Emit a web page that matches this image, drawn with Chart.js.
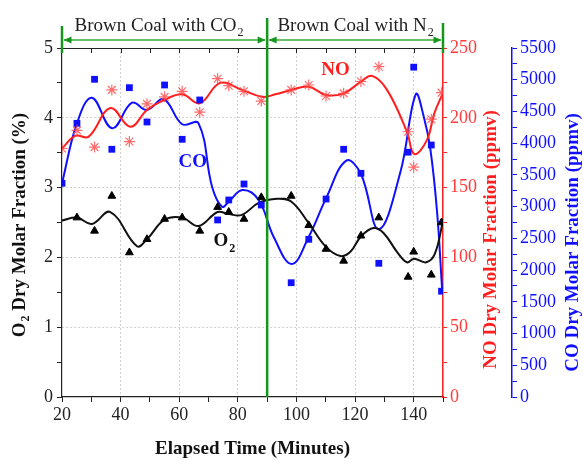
<!DOCTYPE html>
<html>
<head>
<meta charset="utf-8">
<script src="https://cdn.jsdelivr.net/npm/chart.js@4.4.1/dist/chart.umd.min.js"></script>
<style>
  html, body { margin: 0; padding: 0; background: #fff; }
  #wrap { width: 583px; height: 460px; }
</style>
</head>
<body>
<div id="wrap"><canvas id="chart" width="583" height="460"></canvas></div>
<script>
// measured samples (minutes)
const sampleTimes = [20, 25.1, 31.1, 37, 43, 49, 55, 61, 67, 73.1, 76.9, 82.1, 88, 98.2, 104.2, 110.1, 116.1, 122, 128.1, 138.1, 140, 146, 149.5];
const o2Measured = [null, 2.57, 2.38, 2.88, 2.07, 2.26, 2.55, 2.57, 2.38, 2.72, 2.65, 2.55, 2.86, 2.88, 2.46, 2.12, 1.95, 2.31, 2.57, 1.72, 2.08, 1.75, 2.50];
const noMeasured = [178, 191, 179, 220, 183, 210, 215, 219, 204, 228, 223, 219, 212, 220, 223.5, 215.6, 217.5, 226, 236.6, 190, 164.6, 199, 218];
const coMeasured = [3368, 4313, 5007, 3904, 4875, 4334, 4917, 4061, 4681, 2790, 3105, 3357, 3026, 1801, 2485, 3120, 3904, 3525, 2107, 3858, 5198, 3971, 1667];

// smoothed trend curves
const o2FitTimes = [20, 25.1, 30.2, 36.5, 45.6, 49, 55, 61, 66.6, 73.1, 76.9, 81.4, 87.1, 93.4, 98.2, 104.2, 110.1, 115, 118.4, 122, 126.3, 129.7, 134.3, 137.7, 140.1, 144.3, 147.2, 150];
const o2Fit = [2.53, 2.57, 2.48, 2.65, 2.16, 2.26, 2.54, 2.57, 2.45, 2.65, 2.62, 2.61, 2.78, 2.84, 2.80, 2.49, 2.15, 2.02, 2.08, 2.30, 2.42, 2.35, 2.08, 1.93, 1.98, 1.93, 2.05, 2.52];
const noFitTimes = [20, 24.5, 29.1, 36.5, 43.3, 49, 55, 61, 67, 74, 81.4, 88.3, 92.8, 98.2, 104.2, 110.1, 116.1, 122, 125.8, 130.9, 137.7, 140.2, 144.5, 147, 150];
const noFit = [178, 187, 186.5, 207, 193.6, 205.6, 212.8, 216.8, 210.4, 225, 220, 215, 216.8, 219.9, 222.3, 216.3, 217.5, 225.9, 230, 220, 190, 174, 184, 203, 218];
const coFitTimes = [20, 25.1, 30.2, 37.1, 43.9, 49, 54.7, 61, 66.6, 71.2, 74.6, 76.9, 81.6, 87.1, 92.2, 98.4, 104.2, 110.1, 117, 122, 128.1, 135.4, 140.7, 143.4, 145.7, 148, 149.7];
const coFit = [3368, 4313, 4717, 4235, 4638, 4523, 4692, 4298, 4313, 3314, 2999, 3078, 3262, 3105, 2526, 2096, 2526, 3131, 3724, 3514, 2643, 3533, 4770, 4425, 3901, 2903, 1694];

// experiment phases
const phaseStart = 20;
const phaseSplit = 90;
const phaseEnd = 150;
const phaseNames = [['Brown Coal with CO', '2'], ['Brown Coal with N', '2']];

const SERIF = "'Liberation Serif', 'DejaVu Serif', serif";
const RED = '#ff1f1f';
const BLUE = '#1010ff';
const GREEN = '#16961c';

function pts(xs, ys) {
  return xs.map((x, i) => ({ x: x, y: ys[i] }));
}

// text with a subscript tail, centred on (x, y)
function subText(ctx, main, sub, x, y, size, weight) {
  ctx.font = weight + ' ' + size + 'px ' + SERIF;
  const w1 = ctx.measureText(main).width;
  ctx.font = weight + ' ' + Math.round(size * 0.62) + 'px ' + SERIF;
  const w2 = ctx.measureText(sub).width;
  const left = x - (w1 + w2) / 2;
  ctx.textAlign = 'left';
  ctx.textBaseline = 'alphabetic';
  ctx.font = weight + ' ' + size + 'px ' + SERIF;
  ctx.fillText(main, left, y);
  ctx.font = weight + ' ' + Math.round(size * 0.62) + 'px ' + SERIF;
  ctx.fillText(sub, left + w1 + 1, y + size * 0.28);
}

function arrowHead(ctx, x, y, dir) {
  ctx.beginPath();
  ctx.moveTo(x, y);
  ctx.lineTo(x - dir * 8, y - 3.5);
  ctx.lineTo(x - dir * 8, y + 3.5);
  ctx.closePath();
  ctx.fill();
}

const decorations = {
  id: 'decorations',
  afterDatasetsDraw(chart) {
    const ctx = chart.ctx;
    const xs = chart.scales.x;
    const area = chart.chartArea;
    const xSplit = xs.getPixelForValue(phaseSplit);
    ctx.save();
    // top frame with ticks
    ctx.strokeStyle = '#222';
    ctx.lineWidth = 1;
    ctx.beginPath();
    ctx.moveTo(area.left, area.top + 0.5);
    ctx.lineTo(area.right, area.top + 0.5);
    for (let v = 30; v < 150; v += 10) {
      const px = Math.round(xs.getPixelForValue(v)) + 0.5;
      ctx.moveTo(px, area.top);
      ctx.lineTo(px, area.top + 5);
    }
    ctx.stroke();

    // series labels
    ctx.fillStyle = RED;
    ctx.font = 'bold 19px ' + SERIF;
    ctx.textAlign = 'center';
    ctx.textBaseline = 'middle';
    ctx.fillText('NO', xs.getPixelForValue(113.3), chart.scales.yNO.getPixelForValue(234));
    ctx.fillStyle = BLUE;
    ctx.fillText('CO', xs.getPixelForValue(64.6), chart.scales.yCO.getPixelForValue(3700));
    ctx.fillStyle = '#111';
    subText(ctx, 'O', '2', xs.getPixelForValue(75.2), chart.scales.y.getPixelForValue(2.26) + 7, 19, 'bold');

    // phase split line
    ctx.strokeStyle = GREEN;
    ctx.lineWidth = 2.5;
    ctx.beginPath();
    ctx.moveTo(xSplit, 18);
    ctx.lineTo(xSplit, area.bottom);
    ctx.stroke();
    ctx.restore();
  },
  afterDraw(chart) {
    const ctx = chart.ctx;
    const xs = chart.scales.x;
    const area = chart.chartArea;
    const x0 = xs.getPixelForValue(phaseStart);
    const x1 = xs.getPixelForValue(phaseSplit);
    const x2 = xs.getPixelForValue(phaseEnd);
    const yArrow = 40;
    ctx.save();
    ctx.strokeStyle = GREEN;
    ctx.fillStyle = GREEN;
    ctx.lineWidth = 2.5;
    ctx.beginPath();
    ctx.moveTo(x0, 26); ctx.lineTo(x0, area.top + 5);
    ctx.moveTo(x2, 23); ctx.lineTo(x2, area.top + 5);
    ctx.stroke();
    ctx.lineWidth = 1.3;
    ctx.strokeStyle = '#3aaa3a';
    ctx.beginPath();
    ctx.moveTo(x0 + 2, yArrow); ctx.lineTo(x1 - 2, yArrow);
    ctx.moveTo(x1 + 2, yArrow); ctx.lineTo(x2 - 2, yArrow);
    ctx.stroke();
    arrowHead(ctx, x0 + 1.5, yArrow, -1);
    arrowHead(ctx, x1 - 1.5, yArrow, 1);
    arrowHead(ctx, x1 + 1.5, yArrow, -1);
    arrowHead(ctx, x2 - 1.5, yArrow, 1);

    // phase names
    ctx.fillStyle = '#222';
    subText(ctx, phaseNames[0][0], phaseNames[0][1], (x0 + x1) / 2 - 6, 31, 19, 'normal');
    subText(ctx, phaseNames[1][0], phaseNames[1][1], (x1 + x2) / 2, 31, 19, 'normal');

    // axis titles
    const midY = (area.top + area.bottom) / 2;
    ctx.save();
    ctx.translate(20, midY + 3);
    ctx.rotate(-Math.PI / 2);
    ctx.fillStyle = '#111';
    ctx.font = 'bold 19px ' + SERIF;
    const wO = ctx.measureText('O').width;
    ctx.font = 'bold 12px ' + SERIF;
    const w2 = ctx.measureText('2').width;
    ctx.font = 'bold 19px ' + SERIF;
    const rest = ' Dry Molar Fraction (%)';
    const wr = ctx.measureText(rest).width;
    const start = -(wO + w2 + wr) / 2;
    ctx.textBaseline = 'middle';
    ctx.textAlign = 'left';
    ctx.fillText('O', start, 0);
    ctx.font = 'bold 12px ' + SERIF;
    ctx.fillText('2', start + wO + 1, 6);
    ctx.font = 'bold 19px ' + SERIF;
    ctx.fillText(rest, start + wO + w2 + 1, 0);
    ctx.restore();

    ctx.save();
    ctx.translate(491, midY + 17);
    ctx.rotate(-Math.PI / 2);
    ctx.fillStyle = RED;
    ctx.font = 'bold 19px ' + SERIF;
    ctx.textAlign = 'center';
    ctx.textBaseline = 'middle';
    ctx.fillText('NO Dry Molar Fraction (ppmv)', 0, 0);
    ctx.restore();

    ctx.save();
    ctx.translate(573, midY + 20);
    ctx.rotate(-Math.PI / 2);
    ctx.fillStyle = BLUE;
    ctx.font = 'bold 19px ' + SERIF;
    ctx.textAlign = 'center';
    ctx.textBaseline = 'middle';
    ctx.fillText('CO Dry Molar Fraction (ppmv)', 0, 0);
    ctx.restore();
    ctx.restore();
  }
};

const tickFont = { family: SERIF, size: 18 };

new Chart(document.getElementById('chart'), {
  type: 'line',
  data: {
    datasets: [
      { label: 'O2', data: pts(sampleTimes, o2Measured), yAxisID: 'y', showLine: false,
        pointStyle: 'triangle', pointRadius: 4.5, backgroundColor: '#000', borderColor: '#000', borderWidth: 1 },
      { label: 'NO', data: pts(sampleTimes, noMeasured), yAxisID: 'yNO', showLine: false,
        pointStyle: 'star', pointRadius: 5.5, borderColor: 'rgba(255,70,70,0.8)', borderWidth: 1.2 },
      { label: 'CO', data: pts(sampleTimes, coMeasured), yAxisID: 'yCO', showLine: false,
        pointStyle: 'rect', pointRadius: 4.8, backgroundColor: BLUE, borderColor: BLUE, borderWidth: 0 },
      { label: 'O2 fit', data: pts(o2FitTimes, o2Fit), yAxisID: 'y', borderColor: '#111', borderWidth: 2,
        pointRadius: 0, tension: 0.4, fill: false },
      { label: 'NO fit', data: pts(noFitTimes, noFit), yAxisID: 'yNO', borderColor: RED, borderWidth: 2,
        pointRadius: 0, tension: 0.4, fill: false },
      { label: 'CO fit', data: pts(coFitTimes, coFit), yAxisID: 'yCO', borderColor: BLUE, borderWidth: 2,
        pointRadius: 0, tension: 0.4, fill: false }
    ]
  },
  options: {
    responsive: false,
    animation: false,
    layout: { padding: { top: 48, right: 0, left: 0, bottom: 0 } },
    plugins: { legend: { display: false }, tooltip: { enabled: false } },
    scales: {
      x: {
        type: 'linear', min: 20, max: 150, position: 'bottom',
        afterFit(s) { s.height = 63; },
        ticks: {
          stepSize: 10, color: '#222', font: tickFont, padding: 2, maxRotation: 0, autoSkip: false,
          callback: v => (v % 20 === 0 && v < 150) ? v : ''
        },
        grid: {
          tickLength: 5, tickColor: '#222',
          color: c => (c.tick && c.tick.value % 20 === 0 && c.tick.value > 20 && c.tick.value < 150) ? '#cfcfcf' : 'rgba(0,0,0,0)'
        },
        border: { color: '#222', width: 1.2, dash: [2, 2] },
        title: {
          display: true, text: 'Elapsed Time (Minutes)', color: '#111',
          font: { family: SERIF, size: 19, weight: 'bold' }, padding: { top: 8, bottom: 0 }
        }
      },
      y: {
        min: 0, max: 5, position: 'left',
        afterFit(s) { s.width = 62; },
        ticks: {
          stepSize: 0.5, color: '#222', font: tickFont, padding: 4, autoSkip: false,
          callback: v => Number.isInteger(v) ? v : ''
        },
        grid: {
          tickLength: 5, tickColor: '#222',
          color: c => (c.tick && Number.isInteger(c.tick.value) && c.tick.value > 0 && c.tick.value < 5) ? '#cfcfcf' : 'rgba(0,0,0,0)'
        },
        border: { color: '#222', width: 1.2, dash: [2, 2] }
      },
      yNO: {
        min: 0, max: 250, position: 'right', weight: 0,
        afterFit(s) { s.width = 69; },
        ticks: {
          stepSize: 25, color: '#ff3b3b', font: tickFont, padding: 3, autoSkip: false,
          callback: v => v % 50 === 0 ? v : ''
        },
        grid: { drawOnChartArea: false, tickLength: 4, tickColor: RED },
        border: { color: RED, width: 1.5 }
      },
      yCO: {
        min: 0, max: 5500, position: 'right', weight: 1,
        afterFit(s) { s.width = 71; },
        ticks: {
          stepSize: 250, color: BLUE, font: tickFont, padding: 3, autoSkip: false,
          callback: v => v % 500 === 0 ? v : ''
        },
        grid: { drawOnChartArea: false, tickLength: 5, tickColor: BLUE },
        border: { color: BLUE, width: 1.5 }
      }
    }
  },
  plugins: [decorations]
});
</script>
</body>
</html>
